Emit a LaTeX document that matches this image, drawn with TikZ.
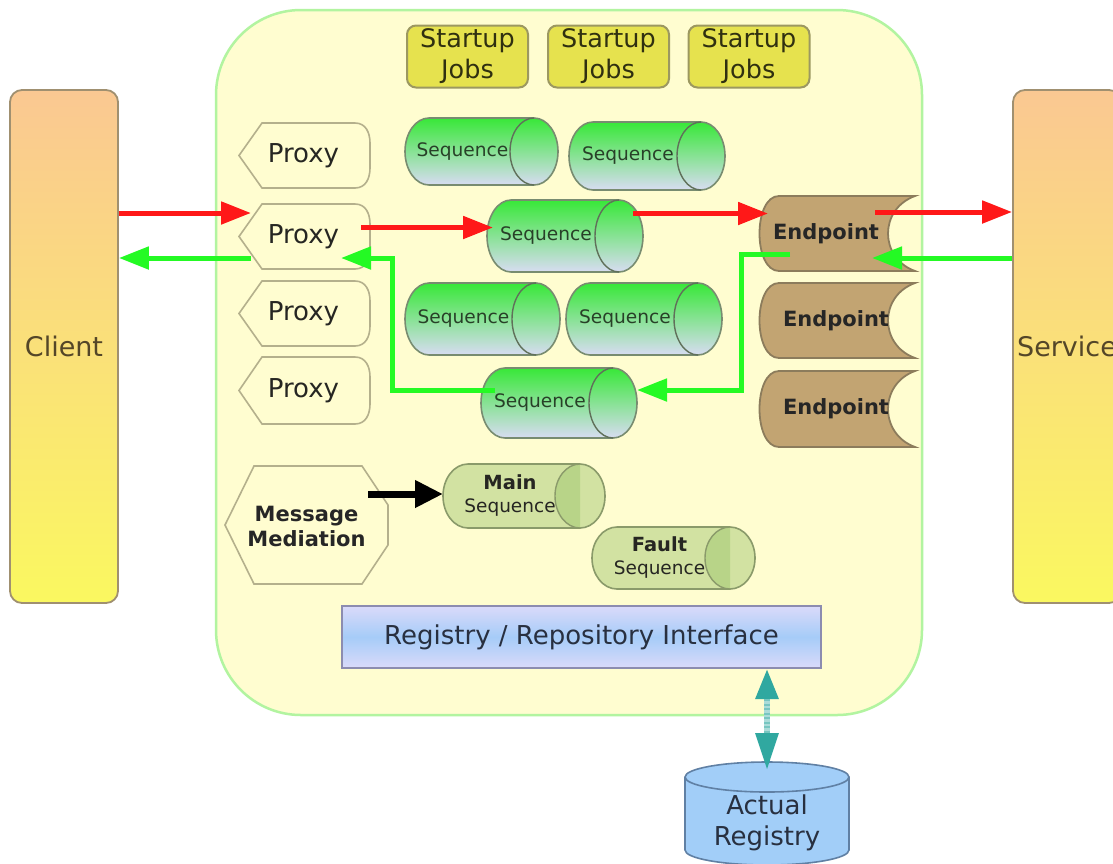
\documentclass[tikz,border=0pt]{standalone}
\usepackage{fontspec}
\setmainfont{DejaVu Sans}
\usetikzlibrary{arrows.meta,calc}

\definecolor{panelfill}{RGB}{255,253,208}
\definecolor{panelline}{RGB}{178,244,160}
\definecolor{actortop}{RGB}{250,200,146}
\definecolor{actorbot}{RGB}{250,248,96}
\definecolor{actorline}{RGB}{160,144,112}
\definecolor{actortext}{RGB}{84,70,40}
\definecolor{jobfill}{RGB}{230,226,78}
\definecolor{jobline}{RGB}{156,152,96}
\definecolor{jobtext}{RGB}{48,48,16}
\definecolor{proxyline}{RGB}{180,176,140}
\definecolor{inktext}{RGB}{38,38,34}
\definecolor{seqtop}{RGB}{56,232,56}
\definecolor{seqbot}{RGB}{216,220,242}
\definecolor{seqline}{RGB}{120,140,112}
\definecolor{seqtext}{RGB}{40,64,40}
\definecolor{epfill}{RGB}{194,164,114}
\definecolor{epline}{RGB}{140,124,92}
\definecolor{msfill}{RGB}{210,226,162}
\definecolor{msdark}{RGB}{184,212,136}
\definecolor{msline}{RGB}{138,154,106}
\definecolor{regtop}{RGB}{218,218,250}
\definecolor{regmid}{RGB}{166,204,248}
\definecolor{regline}{RGB}{140,140,176}
\definecolor{regtext}{RGB}{40,48,64}
\definecolor{dbfill}{RGB}{162,206,248}
\definecolor{dbline}{RGB}{96,128,164}
\definecolor{reqred}{RGB}{255,24,24}
\definecolor{respgreen}{RGB}{36,250,36}
\definecolor{linkteal}{RGB}{48,168,160}

% proxy: hexagon pointing left, rounded on the right
\newcommand\proxyhex[3]{%
  \pgfmathsetmacro\pxmid{-(#2+#3)/2}%
  \pgfmathsetmacro\pxh{#3-#2}%
  \path[hexline] (239,\pxmid) -- (262,-#2) -- (355,-#2)
    .. controls (366,-#2) and (370,-#2-10) .. (370,-#2-20)
    -- (370,-#3+20) .. controls (370,-#3+10) and (366,-#3) .. (355,-#3)
    -- (262,-#3) -- cycle;
  \node[anchorbox,proxytext,minimum width=131pt,minimum height=\pxh pt] (#1) at (303.5,\pxmid) {Proxy};
}

% sequence: horizontal cylinder with its open end on the right
\newcommand\seqcyl[5]{%
  \pgfmathsetmacro\sqcx{(#2+#3)/2}%
  \pgfmathsetmacro\sqcy{-(#4+#5)/2}%
  \pgfmathsetmacro\sqry{(#5-#4)/2}%
  \pgfmathsetmacro\sqw{#3-#2}%
  \pgfmathsetmacro\sqh{#5-#4}%
  \path[seqbody] (#2+24,-#4) -- (#3-24,-#4)
    arc[start angle=90,end angle=-90,x radius=24,y radius=\sqry]
    -- (#2+24,-#5)
    arc[start angle=270,end angle=90,x radius=24,y radius=\sqry] -- cycle;
  \draw[seqrim] (#3-24,-#4) arc[start angle=90,end angle=270,x radius=24,y radius=\sqry];
  \node[anchorbox,minimum width=\sqw pt,minimum height=\sqh pt] (#1) at (\sqcx,\sqcy) {};
  \node[seqlabel] (#1-text) at (\sqcx-19,\sqcy) {Sequence};
}

% main / fault sequence: pale cylinder with a shaded end cap
\newcommand\mainseq[6]{%
  \pgfmathsetmacro\mscx{(#2+#3)/2}%
  \pgfmathsetmacro\mscy{-(#4+#5)/2}%
  \pgfmathsetmacro\msry{(#5-#4)/2}%
  \pgfmathsetmacro\msw{#3-#2}%
  \pgfmathsetmacro\msh{#5-#4}%
  \path[msbody] (#2+25,-#4) -- (#3-25,-#4)
    arc[start angle=90,end angle=-90,x radius=25,y radius=\msry]
    -- (#2+25,-#5)
    arc[start angle=270,end angle=90,x radius=25,y radius=\msry] -- cycle;
  \fill[msdark] (#3-25,-#4) arc[start angle=90,end angle=270,x radius=25,y radius=\msry] -- cycle;
  \draw[msrim] (#3-25,-#4) arc[start angle=90,end angle=270,x radius=25,y radius=\msry];
  \node[anchorbox,minimum width=\msw pt,minimum height=\msh pt] (#1) at (\mscx,\mscy) {};
  \node[mslabel] (#1-text) at (\mscx-14,\mscy) {{\fontsize{19.5}{24}\selectfont\bfseries #6}\\Sequence};
}

% endpoint: rounded on the left, concave on the right
\newcommand\epblock[4]{%
  \pgfmathsetmacro\epmid{-(#2+#3)/2}%
  \pgfmathsetmacro\eph{#3-#2}%
  \path[epshape] (915,-#2) -- (779,-#2) .. controls (753,-#2) and (753,-#3) .. (779,-#3)
    -- (915,-#3) .. controls (879,-#3+13) and (879,-#2-13) .. (915,-#2) -- cycle;
  \node[anchorbox,eplabel,minimum width=158pt,minimum height=\eph pt] (#1) at (836,\epmid) {\hspace*{#4}Endpoint};
}

\begin{document}
\begin{tikzpicture}[x=1pt,y=1pt,
  anchorbox/.style={inner sep=0pt,outer sep=0pt},
  panel/.style={draw=panelline,line width=2.5pt,fill=panelfill,rounded corners=85pt,
    minimum width=706pt,minimum height=705pt,inner sep=0pt},
  actor/.style={draw=actorline,line width=1.8pt,rounded corners=12pt,top color=actortop,
    bottom color=actorbot,minimum width=108pt,minimum height=513pt,inner sep=0pt,
    text=actortext,font=\fontsize{27}{32}\selectfont},
  job/.style={draw=jobline,line width=2pt,fill=jobfill,rounded corners=9pt,minimum width=121pt,
    minimum height=62pt,inner sep=0pt,align=center,text=jobtext,font=\fontsize{25.5}{31}\selectfont},
  hexline/.style={draw=proxyline,line width=1.6pt,fill=panelfill},
  proxytext/.style={text=inktext,font=\fontsize{26}{30}\selectfont},
  seqbody/.style={draw=seqline,line width=1.6pt,top color=seqtop,bottom color=seqbot},
  seqrim/.style={draw=seqline!80!black,line width=1.4pt},
  seqlabel/.style={anchorbox,text=seqtext,font=\fontsize{18.6}{22}\selectfont},
  msbody/.style={draw=msline,line width=1.6pt,fill=msfill},
  msrim/.style={draw=msline,line width=1.4pt},
  mslabel/.style={anchorbox,align=center,text=inktext,font=\fontsize{18.5}{23}\selectfont},
  epshape/.style={draw=epline,line width=1.8pt,fill=epfill},
  eplabel/.style={text=black!85,font=\fontsize{21}{25}\selectfont\bfseries},
  regbox/.style={draw=regline,line width=2pt,top color=regtop,bottom color=regtop,middle color=regmid,
    minimum width=479pt,minimum height=62pt,inner sep=0pt,text=regtext,font=\fontsize{26}{30}\selectfont},
  dbshape/.style={draw=dbline,line width=1.6pt,fill=dbfill},
  dblabel/.style={anchorbox,align=center,text=regtext,font=\fontsize{26}{31}\selectfont},
  medlabel/.style={text=black!85,align=center,font=\fontsize{21}{25}\selectfont\bfseries},
  req/.style={draw=reqred,line width=5pt,-{Triangle[length=30pt,width=22pt]}},
  resp/.style={draw=respgreen,line width=5pt,-{Triangle[length=30pt,width=22pt]}},
  push/.style={draw=black,line width=7pt,-{Triangle[length=28pt,width=26pt]}},
  link/.style={draw=linkteal!40,line width=6pt,
    {Triangle[length=30pt,width=22pt,color=linkteal]}-{Triangle[length=37pt,width=22pt,color=linkteal]}},
  linkstripe/.style={draw=linkteal!65,line width=6pt,dash pattern=on 2pt off 2.5pt}
]
\useasboundingbox (0,0) rectangle (1113,-863);
\clip (0,0) rectangle (1113,-863);
\fill[white] (0,0) rectangle (1113,-863);

% ESB container
\node[panel] (core) at (569,-362.5) {};

% client and service
\node[actor] (client) at (64,-346.5) {Client};
\node[actor] (service) at (1067,-346.5) {Service};

% startup jobs
\node[job] (job1) at (467.5,-56.5) {Startup\\Jobs};
\node[job] (job2) at (608.5,-56.5) {Startup\\Jobs};
\node[job] (job3) at (749,-56.5) {Startup\\Jobs};

% proxies
\proxyhex{p1}{123}{188}
\proxyhex{p2}{204}{269}
\proxyhex{p3}{281}{346}
\proxyhex{p4}{357}{424}

% sequences
\seqcyl{s1}{405}{558}{118}{185}
\seqcyl{s2}{569}{725}{122}{190}
\seqcyl{s3}{487}{643}{200}{272}
\seqcyl{s4}{405}{560}{283}{355}
\seqcyl{s5}{566}{722}{283}{355}
\seqcyl{s6}{481}{637}{368}{438}

% endpoints
\epblock{ep1}{196}{271}{-20pt}
\epblock{ep2}{283}{358}{0pt}
\epblock{ep3}{371}{447}{0pt}

% message mediation
\path[hexline] (225,-525) -- (254,-466) -- (362,-466) -- (388,-505) -- (388,-545)
  -- (362,-584) -- (254,-584) -- cycle;
\node[anchorbox,medlabel,minimum width=163pt,minimum height=118pt] (mm) at (306.5,-526) {Message\\Mediation};

\mainseq{ms}{443}{605}{464}{528}{Main}
\mainseq{fs}{592}{755}{527}{589}{Fault}

% registry interface and backing store
\node[regbox] (reg) at (581.5,-637) {Registry / Repository Interface};
\path[dbshape] (685,-777) -- (685,-850) arc[start angle=180,end angle=360,x radius=82,y radius=15]
  -- (849,-777) arc[start angle=0,end angle=180,x radius=82,y radius=15] -- cycle;
\draw[draw=dbline,line width=1.6pt] (685,-777) arc[start angle=180,end angle=360,x radius=82,y radius=15];
\node[dblabel,minimum width=164pt,minimum height=121pt] (act) at (767,-822.5) {Actual\\Registry};

% request path
\draw[req] (client.east |- 0,-213) -- ($(p2.west)+(13,23.5)$);
\draw[req] ($(p2.east)+(-8,9)$) -- ($(s3.west)+(6,8.5)$);
\draw[req] ($(s3.east)+(-10,22.5)$) -- ($(ep1.west)+(11,20)$);
\draw[req] ($(ep1.east)+(-40,21.5)$) -- (service.west |- 0,-212);

% response path
\draw[resp] (service.west |- 0,-258) -- ($(ep1.east)+(-43,-24.5)$);
\draw[resp] ($(ep1.west)+(33,-20.5)$) -- ++(-49,0) |- ($(s6.east)+(0,13)$);
\draw[resp] ($(s6.west)+(14,13)$) -- ++(-103,0) |- ($(p2.east)+(-28,-21.5)$);
\draw[resp] ($(p2.west)+(13,-21.5)$) -- (client.east |- 0,-258);

% mediation into main sequence
\draw[push] ($(mm.east)+(-20,32)$) -- ($(ms.west)+(0,2)$);

% registry access
\draw[link] (act.north |- reg.south) -- ($(act.north)+(0,-8)$);
\draw[linkstripe] ($(act.north |- reg.south)+(0,-30)$) -- ($(act.north)+(0,29)$);
\end{tikzpicture}
\end{document}
